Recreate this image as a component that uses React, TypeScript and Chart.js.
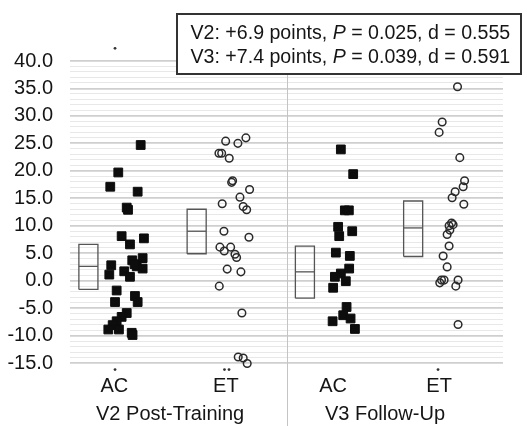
import React, { useEffect, useRef } from 'react';
import { Chart, registerables } from 'chart.js';

Chart.register(...registerables);

// ---------- data ----------
const categories = ['AC', 'ET', 'AC', 'ET'];
const groups = ['V2 Post-Training', 'V3 Follow-Up'];

// V2 AC (filled squares): x = jittered position in category units, y = change in points
const acV2X = [0.653, 0.446, 0.372, 0.625, 0.524, 0.536, 0.477, 0.683, 0.554, 0.671, 0.575, 0.381, 0.363, 0.501, 0.554, 0.616, 0.671, 0.596, 0.431, 0.416, 0.600, 0.625, 0.524, 0.477, 0.431, 0.394, 0.354, 0.452, 0.570, 0.578];
const acV2Y = [24.7, 19.7, 17.1, 16.2, 13.3, 12.9, 8.1, 7.7, 6.6, 4.1, 3.7, 2.8, 1.1, 1.7, 0.7, 2.6, 2.2, 3.0, -1.8, -3.9, -2.8, -3.9, -5.9, -6.6, -7.4, -8.1, -8.9, -8.9, -9.5, -9.9];

// V2 ET (open circles)
const etV2X = [1.438, 1.551, 1.625, 1.376, 1.401, 1.471, 1.493, 1.502, 1.659, 1.570, 1.600, 1.632, 1.406, 1.422, 1.653, 1.385, 1.425, 1.484, 1.524, 1.539, 1.452, 1.579, 1.379, 1.588, 1.554, 1.600, 1.637];
const etV2Y = [25.4, 25.0, 26.0, 23.2, 23.2, 22.3, 17.9, 18.2, 16.6, 15.2, 13.5, 12.9, 14.0, 9.0, 7.9, 6.1, 5.4, 6.1, 4.8, 4.2, 2.1, 1.6, -1.0, -5.9, -13.9, -14.1, -15.1];

// V3 AC (filled squares)
const acV3X = [2.502, 2.616, 2.539, 2.576, 2.477, 2.487, 2.607, 2.456, 2.585, 2.579, 2.502, 2.447, 2.548, 2.431, 2.555, 2.524, 2.592, 2.426, 2.632];
const acV3Y = [23.9, 19.4, 12.8, 12.8, 9.8, 8.1, 9.0, 5.1, 4.5, 2.2, 1.3, 0.7, -0.1, -1.3, -4.8, -6.3, -6.9, -7.4, -8.8];

// V3 ET (open circles)
const etV3X = [3.580, 3.438, 3.410, 3.601, 3.645, 3.632, 3.558, 3.530, 3.638, 3.525, 3.502, 3.539, 3.484, 3.509, 3.502, 3.447, 3.484, 3.432, 3.416, 3.456, 3.585, 3.564, 3.585];
const etV3Y = [35.3, 28.9, 27.0, 22.4, 18.2, 17.1, 16.2, 15.1, 13.9, 10.5, 10.0, 10.2, 8.4, 9.2, 6.3, 4.5, 2.5, 0.1, -0.4, 0.1, 0.1, -1.0, -8.0];

// summary boxes (mean with lower / upper bound), one per category
const boxMean = [2.6, 9.0, 1.6, 9.6];
const boxLow = [-1.6, 4.9, -3.2, 4.4];
const boxHigh = [6.6, 13.0, 6.3, 14.5];

// small marks seen around the plot (outside the plotted range)
const markX = [0.416, 0.416, 1.427, 1.469, 3.40];
const markY = [42.3, -16.2, -16.2, -16.2, -16.2];

// statistics text
const statLines = [
  ['V2: +6.9 points, ', 'P', ' = 0.025, d = 0.555'],
  ['V3: +7.4 points, ', 'P', ' = 0.039, d = 0.591'],
];

// y axis
const yMin = -15;
const yMax = 40;
const yMajorStep = 5;

// ---------- layout (not data) ----------
const catTickPos = [0.41, 1.44, 2.43, 3.41];
const groupTickPos = [0.925, 2.91];
const boxOffset = 0.17;
const boxHalf = 0.088;
const dividerAt = 2.0;
const FONT = "'Liberation Sans', Arial, Helvetica, sans-serif";
const TEXT = '#151515';

const pts = (xs: number[], ys: number[]) => xs.map((x, i) => ({ x, y: ys[i] }));

function boxDatasets() {
  const out: any[] = [];
  boxMean.forEach((m, i) => {
    const cx = i + boxOffset;
    const l = cx - boxHalf;
    const r = cx + boxHalf;
    out.push({
      type: 'line',
      data: [
        { x: l, y: boxLow[i] },
        { x: l, y: boxHigh[i] },
        { x: r, y: boxHigh[i] },
        { x: r, y: boxLow[i] },
        { x: l, y: boxLow[i] },
      ],
      borderColor: '#555555',
      borderWidth: 1.3,
      pointRadius: 0,
      fill: false,
      tension: 0,
    });
    out.push({
      type: 'line',
      data: [
        { x: l, y: m },
        { x: r, y: m },
      ],
      borderColor: '#555555',
      borderWidth: 1.3,
      pointRadius: 0,
      fill: false,
    });
  });
  return out;
}

const overlay = {
  id: 'overlay',
  beforeDatasetsDraw(chart: any) {
    const { ctx, chartArea, scales } = chart;
    const dx = Math.round(scales.x.getPixelForValue(dividerAt)) + 0.5;
    ctx.save();
    ctx.strokeStyle = '#c4c4c4';
    ctx.lineWidth = 1;
    ctx.beginPath();
    ctx.moveTo(dx, chartArea.top - 40);
    ctx.lineTo(dx, chart.height);
    ctx.stroke();
    ctx.restore();
  },
  afterDraw(chart: any) {
    const { ctx, scales } = chart;
    ctx.save();
    // small marks outside the plotted range
    ctx.fillStyle = '#333333';
    markX.forEach((mx, i) => {
      const px = scales.x.getPixelForValue(mx);
      const py = scales.y.getPixelForValue(markY[i]);
      ctx.beginPath();
      ctx.arc(px, py, 1.4, 0, Math.PI * 2);
      ctx.fill();
    });
    // statistics box
    const bx = 177;
    const by = 14;
    const bw = 344;
    const bh = 60;
    ctx.fillStyle = '#ffffff';
    ctx.fillRect(bx, by, bw, bh);
    ctx.strokeStyle = '#333333';
    ctx.lineWidth = 2;
    ctx.strokeRect(bx, by, bw, bh);
    ctx.fillStyle = TEXT;
    ctx.textBaseline = 'alphabetic';
    ctx.textAlign = 'left';
    const size = 19.6;
    statLines.forEach((parts, li) => {
      let x = bx + 13.5;
      const y = by + 24.5 + li * 24.3;
      parts.forEach((p, pi) => {
        ctx.font = (pi === 1 ? 'italic ' : '') + size + 'px ' + FONT;
        ctx.fillText(p, x, y);
        x += ctx.measureText(p).width;
      });
    });
    ctx.restore();
  },
};

export default function App() {
  const ref = useRef<HTMLCanvasElement>(null);

  useEffect(() => {
    if (!ref.current) return;
    Chart.defaults.font.family = FONT;
    Chart.defaults.color = TEXT;

    const chart = new Chart(ref.current, {
      type: 'scatter',
      data: {
        datasets: [
          ...boxDatasets(),
          {
            type: 'scatter',
            data: pts(acV2X, acV2Y),
            pointStyle: 'rect',
            pointRadius: 6.2,
            borderWidth: 1,
            backgroundColor: '#0d0d0d',
            borderColor: '#0d0d0d',
            clip: false,
          },
          {
            type: 'scatter',
            data: pts(acV3X, acV3Y),
            pointStyle: 'rect',
            pointRadius: 6.2,
            borderWidth: 1,
            backgroundColor: '#0d0d0d',
            borderColor: '#0d0d0d',
            clip: false,
          },
          {
            type: 'scatter',
            data: pts(etV2X, etV2Y),
            pointStyle: 'circle',
            pointRadius: 3.8,
            borderWidth: 1.5,
            backgroundColor: 'rgba(0,0,0,0)',
            borderColor: '#2a2a2a',
            clip: false,
          },
          {
            type: 'scatter',
            data: pts(etV3X, etV3Y),
            pointStyle: 'circle',
            pointRadius: 3.8,
            borderWidth: 1.5,
            backgroundColor: 'rgba(0,0,0,0)',
            borderColor: '#2a2a2a',
            clip: false,
          },
        ] as any,
      },
      options: {
        responsive: false,
        animation: false,
        events: [],
        layout: { padding: { left: 0, right: 24, top: 61, bottom: 0 } },
        plugins: { legend: { display: false }, tooltip: { enabled: false } },
        scales: {
          x: {
            type: 'linear',
            position: 'bottom',
            min: 0,
            max: 4,
            grid: { display: false, drawTicks: false },
            border: { display: false },
            afterBuildTicks: (scale: any) => {
              scale.ticks = catTickPos.map((v) => ({ value: v }));
            },
            afterFit: (scale: any) => {
              scale.height = 30;
            },
            ticks: {
              autoSkip: false,
              maxRotation: 0,
              padding: 11,
              font: { size: 20 },
              color: TEXT,
              callback: (_v: any, i: number) => categories[i],
            },
          },
          x2: {
            type: 'linear',
            position: 'bottom',
            min: 0,
            max: 4,
            grid: { display: false, drawTicks: false },
            border: { display: false },
            afterBuildTicks: (scale: any) => {
              scale.ticks = groupTickPos.map((v) => ({ value: v }));
            },
            afterFit: (scale: any) => {
              scale.height = 33;
            },
            ticks: {
              autoSkip: false,
              maxRotation: 0,
              padding: 9,
              font: { size: 20 },
              color: TEXT,
              callback: (_v: any, i: number) => groups[i],
            },
          },
          y: {
            type: 'linear',
            min: yMin,
            max: yMax,
            afterFit: (scale: any) => {
              scale.width = 70;
            },
            border: { display: false },
            grid: {
              drawTicks: false,
              color: (c: any) => (c.tick && c.tick.value % yMajorStep === 0 ? '#cfcfcf' : '#e8e8e8'),
              lineWidth: (c: any) => (c.tick && c.tick.value % yMajorStep === 0 ? 1.8 : 1),
            },
            ticks: {
              stepSize: 1,
              autoSkip: false,
              padding: 17,
              font: { size: 20 },
              color: TEXT,
              callback: (v: any) => (Number(v) % yMajorStep === 0 ? Number(v).toFixed(1) : ''),
            },
          },
        },
      } as any,
      plugins: [overlay],
    });
    return () => chart.destroy();
  }, []);

  return (
    <div style={{ position: 'fixed', left: 0, top: 0, width: 527, height: 426, background: '#fff' }}>
      <canvas ref={ref} width={527} height={426} style={{ width: 527, height: 426, display: 'block' }} />
    </div>
  );
}
